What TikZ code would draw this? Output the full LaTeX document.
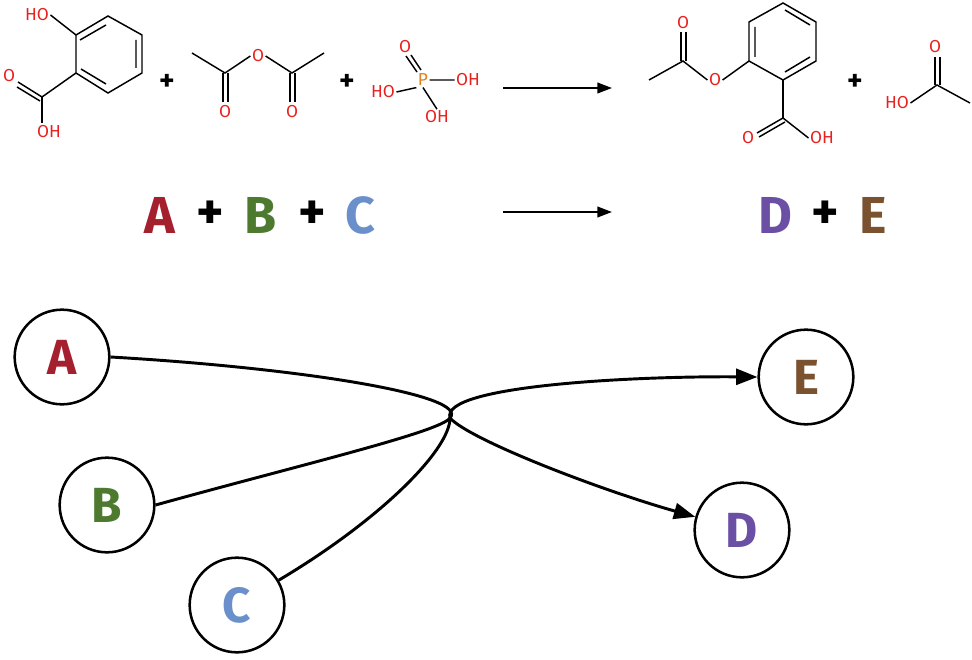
\documentclass[tikz,border=0pt]{standalone}
\usepackage{fontspec}
\setmainfont{Fira Sans}
\usetikzlibrary{arrows.meta}
\definecolor{cA}{HTML}{A4202E}
\definecolor{cB}{HTML}{4E7A2F}
\definecolor{cC}{HTML}{6A8FCB}
\definecolor{cD}{HTML}{6A4FA5}
\definecolor{cE}{HTML}{7A5230}
\definecolor{atO}{HTML}{E8201E}
\definecolor{atP}{HTML}{E08020}
\begin{document}
\begin{tikzpicture}[x=0.75pt,y=-0.75pt,
  bond/.style={line width=1.1pt,black},
  atom/.style={text=atO,font=\fontsize{13}{13}\selectfont,inner sep=1pt},
  big/.style={font=\fontsize{39}{39}\selectfont\bfseries,inner sep=0pt},
  circ/.style={circle,draw,line width=1.9pt,minimum size=71pt,inner sep=0pt,font=\fontsize{37}{37}\selectfont\bfseries},
  link/.style={line width=2.2pt},
  arr/.style={line width=2.2pt,-{Triangle[length=16pt,width=12pt]}},
  rx/.style={line width=1.4pt,-{Triangle[length=11pt,width=8pt]}}]
\useasboundingbox (0,0) rectangle (972,660);
% salicylic acid
\coordinate (s1) at (108,16);\coordinate (s2) at (142,35);\coordinate (s3) at (142,73);
\coordinate (s4) at (108,93);\coordinate (s5) at (76,73);\coordinate (s6) at (76,35);
\draw[bond] (s1)--(s2)--(s3)--(s4)--(s5)--(s6)--cycle;
\draw[bond] (80,40)--(106,25) (136,40)--(136,68) (106,84)--(81,69);
\node[atom] (sHO) at (37,15) {HO};
\draw[bond] (s6)--(sHO.east);
\coordinate (sc) at (42,97);
\draw[bond] (s5)--(sc);
\node[atom] (sO) at (9,76) {O};
\node[atom] (sOH) at (49,132) {OH};
\draw[bond] (sc)--(18,82) (40,101)--(17,87);
\draw[bond] (sc)--(42,123);
\node[big] (p1) at (167,82) {\fontsize{22}{22}\selectfont +};
% acetic anhydride
\node[atom] (aO) at (258,56) {O};
\draw[bond] (192,53)--(225,73)--(aO.west) (aO.east)--(292,73)--(324,53);
\node[atom] (aO1) at (225,112) {O};\node[atom] (aO2) at (292,112) {O};
\draw[bond] (223,73)--(223,102) (228,73)--(228,102) (290,73)--(290,102) (295,73)--(295,102);
\node[big] (p2) at (347,82) {\fontsize{22}{22}\selectfont +};
% phosphoric acid
\node[atom,text=atP] (P) at (423,80) {P};
\node[atom] (pO) at (405,47) {O};
\node[atom] (pOH1) at (468,80) {OH};
\node[atom] (pHO) at (383,92) {HO};
\node[atom] (pOH2) at (437,117) {OH};
\draw[bond] (P.east)--(pOH1.west) (P.south west)--(pHO.east) (P.south)--(pOH2.north);
\draw[bond] (417,72)--(406,56) (421,70)--(411,55);
% arrows
\coordinate (t1) at (503,88);\coordinate (t2) at (612,88);
\draw[rx] (t1)--(t2);
\coordinate (b1) at (503,212);\coordinate (b2) at (612,212);
\draw[rx] (b1)--(b2);
% aspirin
\coordinate (r1) at (749,61);\coordinate (r2) at (749,22);\coordinate (r3) at (783,3);
\coordinate (r4) at (816,22);\coordinate (r5) at (816,61);\coordinate (r6) at (783,80);
\draw[bond] (r1)--(r2)--(r3)--(r4)--(r5)--(r6)--cycle;
\draw[bond] (755,57)--(755,27) (785,10)--(810,25) (810,57)--(785,72);
\node[atom] (asO) at (715,80) {O};
\node[atom] (asO2) at (683,23) {O};
\draw[bond] (649,80)--(683,61)--(asO.west) (asO.east)--(r1);
\draw[bond] (681,61)--(681,32) (686,61)--(686,32);
\coordinate (ac) at (783,118);
\draw[bond] (r6)--(ac);
\node[atom] (acO) at (748,138) {O};\node[atom] (acOH) at (822,138) {OH};
\draw[bond] (ac)--(757,133) (785,122)--(759,137) (ac)--(acOH.west);
\node[big] (p3) at (855,82) {\fontsize{22}{22}\selectfont +};
% acetic acid
\node[atom] (eHO) at (897,103) {HO};
\node[atom] (eO) at (935,47) {O};
\draw[bond] (eHO.east)--(937,85)--(970,103);
\draw[bond] (935,85)--(935,57) (940,85)--(940,57);
% letters row
\node[big,text=cA] (LA) at (160,215) {A};
\node[big] (L1) at (210,215) {+};
\node[big,text=cB] (LB) at (261,215) {B};
\node[big] (L2) at (312,215) {+};
\node[big,text=cC] (LC) at (360,215) {C};
\node[big,text=cD] (LD) at (775,215) {D};
\node[big] (L3) at (825,215) {+};
\node[big,text=cE] (LE) at (873,215) {E};
% graph
\node[circ,text=cA] (A) at (62,357) {A};
\node[circ,text=cB] (B) at (107,505) {B};
\node[circ,text=cC] (C) at (237,605) {C};
\node[circ,text=cE] (E) at (806,377) {E};
\node[circ,text=cD] (D) at (742,530) {D};
\coordinate (m) at (450,418);
\draw[link] (A.east) .. controls (300,368) and (470,395) .. (m);
\draw[link] (B.east) .. controls (300,465) and (440,432) .. (m);
\draw[link] (C) .. controls (380,520) and (450,450) .. (m);
\draw[arr] (m) .. controls (440,385) and (640,376) .. (E.west);
\draw[arr] (m) .. controls (470,440) and (600,490) .. (D);
\end{tikzpicture}
\end{document}
